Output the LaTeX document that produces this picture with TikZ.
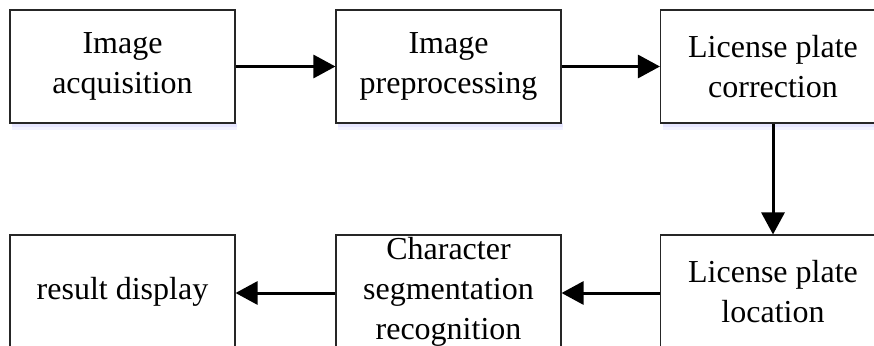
\documentclass[tikz,border=0pt]{standalone}
\usepackage{fontspec}
\setmainfont{Liberation Serif}
\usetikzlibrary{arrows.meta}
\begin{document}
\begin{tikzpicture}[x=1pt,y=-1pt,
  procbox/.style={draw=black!85, line width=1.1pt, fill=white, minimum width=225pt, minimum height=113pt,
    inner sep=0pt, align=center, font=\fontsize{32}{40}\selectfont},
  flow/.style={line width=3pt, -{Triangle[length=22pt,width=23pt]}}]
\useasboundingbox (0,0) rectangle (874,345);
\clip (0,0) rectangle (874,345);
\fill[white] (0,0) rectangle (874,345);
% soft shadows under the top boxes
\foreach \xa/\xb in {10/235,336/561,661/885}{
  \fill[blue!10] (\xa+2,123) rectangle (\xb+2,127);
  \fill[blue!5] (\xa+2,127) rectangle (\xb+2,130);
}
\node[procbox] (acq) at (122.5,66.5) {Image\\acquisition};
\node[procbox] (pre) at (448.5,66.5) {Image\\preprocessing};
\node[procbox] (cor) at (773,66.5) {License plate\\correction};
\node[procbox] (loc) at (773,291.5) {License plate\\location};
\node[procbox] (seg) at (448.5,291.5) {Character\\segmentation\\recognition};
\node[procbox] (res) at (122.5,291.5) {result display};
\draw[flow] (acq.east) -- (pre.west);
\draw[flow] (pre.east) -- (cor.west);
\draw[flow] (cor.south) -- (loc.north);
\draw[flow] ([yshift=-1.5pt]loc.west) -- ([yshift=-1.5pt]seg.east);
\draw[flow] ([yshift=-1.5pt]seg.west) -- ([yshift=-1.5pt]res.east);
\end{tikzpicture}
\end{document}
